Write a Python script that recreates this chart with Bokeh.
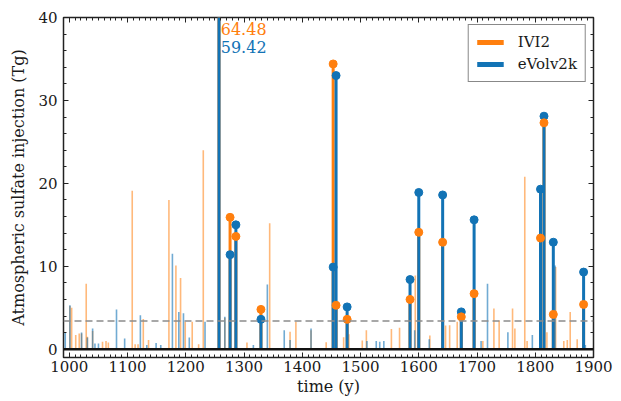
import numpy as np
from bokeh.plotting import figure
from bokeh.models import Span, Range1d, FixedTicker, LinearAxis, ColumnDataSource
from bokeh.core.properties import value
from bokeh.embed import file_html
from bokeh.resources import INLINE

# ---- data ----
major_years = [1257, 1276, 1286, 1329, 1453, 1458, 1477, 1585, 1600, 1641,
               1673, 1695, 1809, 1815, 1831, 1883]
ivi2_major = [64.48, 15.9, 13.6, 4.8, 34.4, 5.3, 3.6, 6.0, 14.1, 12.9,
              3.9, 6.7, 13.4, 27.3, 4.2, 5.4]
evolv_major = [59.42, 11.4, 15.0, 3.6, 9.9, 33.0, 5.1, 8.4, 18.9, 18.6,
               4.5, 15.6, 19.3, 28.1, 12.9, 9.3]

ivi2_minor_years = [1001, 1004, 1011, 1017, 1021, 1029, 1031, 1040, 1057, 1063,
                    1067, 1108, 1113, 1118, 1127, 1136, 1171, 1183, 1191, 1199,
                    1211, 1222, 1230, 1267, 1305, 1344, 1379, 1389, 1415, 1441,
                    1471, 1480, 1503, 1510, 1553, 1567, 1594, 1619, 1646, 1653,
                    1666, 1710, 1729, 1738, 1761, 1765, 1782, 1786, 1820, 1835,
                    1849, 1855, 1860, 1872]
ivi2_minor = [5.2, 5.0, 1.7, 1.9, 1.9, 7.9, 1.5, 2.2, 0.9, 1.0,
              0.8, 19.1, 0.6, 0.6, 3.65, 1.1, 18.0, 10.1, 8.6, 3.3,
              3.3, 0.6, 24.0, 3.8, 0.8, 15.2, 2.1, 3.3, 2.3, 0.85,
              1.45, 1.8, 1.05, 2.3, 2.45, 2.6, 8.9, 1.65, 2.85, 2.9,
              3.3, 1.0, 4.9, 3.45, 4.9, 2.5, 20.8, 1.0, 2.05, 9.9,
              1.0, 1.1, 4.5, 1.2]

evolv_minor_years = [993, 1001, 1021, 1031, 1040, 1044, 1050, 1081, 1095, 1122,
                     1133, 1149, 1157, 1177, 1188, 1196, 1206, 1233, 1267, 1316,
                     1340, 1369, 1379, 1415, 1511, 1527, 1533, 1540, 1593, 1618,
                     1707, 1718, 1753, 1795, 1834, 1886]
evolv_minor = [2.0, 5.3, 2.0, 1.4, 2.5, 0.7, 0.7, 4.8, 1.3, 4.1,
               0.5, 0.75, 0.5, 11.5, 4.5, 4.35, 1.4, 3.3, 3.9, 0.5,
               7.8, 2.3, 1.1, 2.5, 1.0, 1.0, 0.9, 1.0, 2.3, 1.2,
               1.0, 7.9, 2.05, 1.7, 10.1, 0.5]

threshold = 3.4
x_ticks = [1000, 1100, 1200, 1300, 1400, 1500, 1600, 1700, 1800, 1900]
y_ticks = [0, 10, 20, 30, 40]
series_names = ["IVI2", "eVolv2k"]

ORANGE = "#ff7f0e"
BLUE = "#1273b5"
FONT = "DejaVu Serif"

p = figure(width=621, height=401, x_range=Range1d(990, 1900), y_range=Range1d(-1, 40),
           output_backend="svg", toolbar_location=None,
           min_border_left=63, min_border_right=28, min_border_top=17, min_border_bottom=44)
p.grid.visible = False
p.outline_line_color = "#222222"
p.outline_line_width = 1.5
p.background_fill_color = "white"
p.border_fill_color = "white"

xt = FixedTicker(ticks=x_ticks, minor_ticks=list(range(990, 1901, 10)))
yt = FixedTicker(ticks=y_ticks, minor_ticks=list(range(0, 41, 2)))

def style_axis(ax, show_labels, ticks=None):
    ax.axis_line_color = None
    ax.major_tick_in = 5
    ax.major_tick_out = 0
    ax.minor_tick_in = 3
    ax.minor_tick_out = 0
    ax.major_tick_line_color = "#222222"
    ax.minor_tick_line_color = "#222222"
    ax.major_tick_line_width = 1
    ax.minor_tick_line_width = 1
    if show_labels:
        ax.major_label_text_font = FONT
        ax.major_label_text_font_size = "15px"
        ax.major_label_text_color = "#1a1a1a"
        ax.axis_label_text_font = FONT
        ax.axis_label_text_font_size = "16px"
        ax.axis_label_text_font_style = "normal"
        ax.axis_label_text_color = "#1a1a1a"
    else:
        ax.major_label_overrides = {t: "" for t in ticks}
        ax.major_label_standoff = 0

style_axis(p.xaxis[0], True)
style_axis(p.yaxis[0], True)
p.xaxis[0].ticker = xt
p.yaxis[0].ticker = yt
p.xaxis[0].axis_label = "time (y)"
p.xaxis[0].major_label_standoff = 3
p.xaxis[0].axis_label_standoff = 2
p.yaxis[0].axis_label = "Atmospheric sulfate injection (Tg)"
p.yaxis[0].major_label_standoff = 6
p.yaxis[0].axis_label_standoff = 7

top = LinearAxis(ticker=xt)
style_axis(top, False, x_ticks)
p.add_layout(top, "above")
right = LinearAxis(ticker=yt)
style_axis(right, False, y_ticks)
p.add_layout(right, "right")

# thin (unmatched) events
p.segment(x0=ivi2_minor_years, y0=0, x1=ivi2_minor_years, y1=ivi2_minor,
          line_color=ORANGE, line_alpha=0.55, line_width=1.6)
p.segment(x0=evolv_minor_years, y0=0, x1=evolv_minor_years, y1=evolv_minor,
          line_color=BLUE, line_alpha=0.6, line_width=1.6)

# threshold line
p.add_layout(Span(location=threshold, dimension="width", line_color="#8c8c8c",
                  line_width=1.5, line_dash="7 4"))

# bold (matched) events
p.segment(x0=major_years, y0=0, x1=major_years, y1=ivi2_major,
          line_color=ORANGE, line_width=3)
p.segment(x0=major_years, y0=0, x1=major_years, y1=evolv_major,
          line_color=BLUE, line_width=3)
p.scatter(x=major_years, y=evolv_major, size=8, marker="circle",
          fill_color=BLUE, line_color=BLUE)
p.scatter(x=major_years, y=ivi2_major, size=8, marker="circle",
          fill_color=ORANGE, line_color=ORANGE)

p.add_layout(Span(location=0, dimension="width", line_color="#111111", line_width=2.5))

# labels for the off-scale event
lab = ColumnDataSource(dict(
    x=[major_years[0] + 3, major_years[0] + 3],
    y=[38.6, 36.4],
    text=[f"{ivi2_major[0]:.2f}", f"{evolv_major[0]:.2f}"],
    color=[ORANGE, BLUE]))
p.text(x="x", y="y", text="text", text_color="color", source=lab,
       text_font=value(FONT), text_font_size="16px",
       text_align="left", text_baseline="middle")

# legend (proxy lines, not visible in the plot area)
nan = float("nan")
p.line(x=[nan, nan], y=[nan, nan], line_color=ORANGE, line_width=5,
       legend_label=series_names[0])
p.line(x=[nan, nan], y=[nan, nan], line_color=BLUE, line_width=5,
       legend_label=series_names[1])
lg = p.legend[0]
lg.location = "top_right"
lg.margin = 7
lg.padding = 8
lg.spacing = 4
lg.glyph_width = 27
lg.glyph_height = 16
lg.label_height = 16
lg.label_standoff = 14
lg.label_text_font = FONT
lg.label_text_font_size = "15px"
lg.label_text_color = "#1a1a1a"
lg.border_line_color = "#111111"
lg.border_line_width = 1.5
lg.background_fill_alpha = 1.0

open("out.html", "w").write(file_html(p, INLINE))
